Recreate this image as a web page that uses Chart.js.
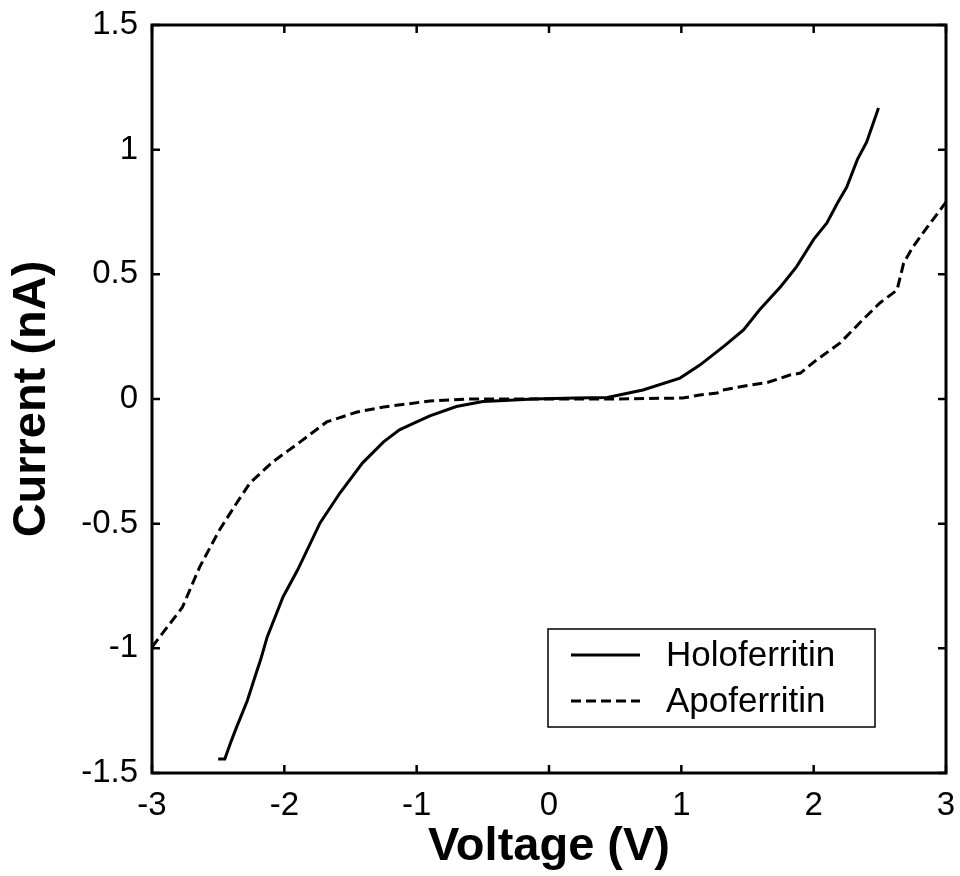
<!DOCTYPE html>
<html>
<head>
<meta charset="utf-8">
<script src="https://cdn.jsdelivr.net/npm/chart.js@4.4.1/dist/chart.umd.min.js"></script>
<style>
    html, body { margin: 0; padding: 0; background: #ffffff; }
    #wrap { width: 960px; height: 876px; }
</style>
</head>
<body>
<div id="wrap"><canvas id="ivChart" width="960" height="876"></canvas></div>
<script>
// ================================================================
// DATA
// ================================================================

const holoVoltage = [-2.50, -2.45, -2.40, -2.36, -2.28, -2.21, -2.18, -2.13, -2.01, -1.90,
    -1.73, -1.58, -1.41, -1.25, -1.13, -1.00, -0.90, -0.70, -0.50, -0.30,
    -0.12, 0.20, 0.44, 0.71, 0.99, 1.14, 1.27, 1.33, 1.47, 1.59,
    1.75, 1.87, 2.00, 2.10, 2.18, 2.25, 2.33, 2.40, 2.49];
const holoCurrent = [-1.444, -1.444, -1.37, -1.315, -1.21, -1.095, -1.047, -0.955, -0.794, -0.686,
    -0.497, -0.377, -0.257, -0.172, -0.124, -0.092, -0.068, -0.03, -0.01, -0.005,
    0.0, 0.004, 0.006, 0.036, 0.084, 0.136, 0.19, 0.215, 0.277, 0.357,
    0.45, 0.53, 0.64, 0.706, 0.786, 0.85, 0.96, 1.03, 1.167];

const apoVoltage = [-3.00, -2.77, -2.64, -2.49, -2.36, -2.26, -2.09, -1.88, -1.68, -1.45,
    -1.25, -0.90, -0.62, 0.00, 0.50, 1.01, 1.14, 1.27, 1.31, 1.52,
    1.65, 1.82, 1.90, 2.02, 2.20, 2.37, 2.50, 2.63, 2.68, 2.75,
    2.86, 3.00];
const apoCurrent = [-0.995, -0.835, -0.674, -0.525, -0.417, -0.337, -0.253, -0.172, -0.092, -0.052,
    -0.032, -0.008, 0.0, 0.0, 0.0, 0.004, 0.016, 0.024, 0.036, 0.056,
    0.066, 0.096, 0.104, 0.156, 0.225, 0.317, 0.385, 0.437, 0.545, 0.61,
    0.69, 0.79];

const xTicks = [-3, -2, -1, 0, 1, 2, 3];
const yTicks = [-1.5, -1, -0.5, 0, 0.5, 1, 1.5];
const seriesNames = ['Holoferritin', 'Apoferritin'];

// ================================================================
// HELPERS
// ================================================================

const FONT = "'Liberation Sans', Arial, Helvetica, sans-serif";

function toPoints(xs, ys) {
    return xs.map((x, i) => ({ x: x, y: ys[i] }));
}

// frame box + inward ticks on all four sides
const framePlugin = {
    id: 'frame',
    afterDraw(chart) {
        const { ctx, chartArea: a, scales } = chart;
        ctx.save();
        ctx.strokeStyle = '#000';
        ctx.lineWidth = 2.5;
        const tl = 8;
        ctx.beginPath();
        xTicks.forEach(v => {
            const px = scales.x.getPixelForValue(v);
            ctx.moveTo(px, a.bottom); ctx.lineTo(px, a.bottom - tl);
            ctx.moveTo(px, a.top); ctx.lineTo(px, a.top + tl);
        });
        yTicks.forEach(v => {
            const py = scales.y.getPixelForValue(v);
            ctx.moveTo(a.left, py); ctx.lineTo(a.left + tl, py);
            ctx.moveTo(a.right, py); ctx.lineTo(a.right - tl, py);
        });
        ctx.stroke();
        ctx.lineWidth = 3;
        ctx.strokeRect(a.left, a.top, a.right - a.left, a.bottom - a.top);
        ctx.restore();
    }
};

// boxed legend in the lower right of the plot
const boxLegendPlugin = {
    id: 'boxLegend',
    afterDraw(chart) {
        const { ctx } = chart;
        const box = { x: 548, y: 629, w: 327, h: 98 };
        ctx.save();
        ctx.fillStyle = '#fff';
        ctx.fillRect(box.x, box.y, box.w, box.h);
        ctx.strokeStyle = '#000';
        ctx.lineWidth = 1.5;
        ctx.strokeRect(box.x, box.y, box.w, box.h);
        ctx.font = '35px ' + FONT;
        ctx.textBaseline = 'middle';
        ctx.fillStyle = '#000';
        chart.data.datasets.forEach((ds, i) => {
            const cy = box.y + 26 + i * 46;
            ctx.beginPath();
            ctx.lineWidth = ds.borderWidth;
            ctx.setLineDash(ds.borderDash || []);
            ctx.moveTo(box.x + 23, cy);
            ctx.lineTo(box.x + 92, cy);
            ctx.stroke();
            ctx.setLineDash([]);
            ctx.fillText(ds.label, box.x + 118, cy + 1);
        });
        ctx.restore();
    }
};

// ================================================================
// CHART
// ================================================================

const ctx = document.getElementById('ivChart').getContext('2d');

new Chart(ctx, {
    type: 'scatter',
    data: {
        datasets: [{
            label: seriesNames[0],
            data: toPoints(holoVoltage, holoCurrent),
            showLine: true,
            borderColor: '#000',
            borderWidth: 3,
            pointRadius: 0,
            tension: 0
        }, {
            label: seriesNames[1],
            data: toPoints(apoVoltage, apoCurrent),
            showLine: true,
            borderColor: '#000',
            borderWidth: 3,
            borderDash: [10, 5],
            pointRadius: 0,
            tension: 0
        }]
    },
    options: {
        responsive: false,
        animation: false,
        layout: {
            padding: { top: 25, right: 14, left: 0, bottom: 0 }
        },
        plugins: {
            legend: { display: false },
            tooltip: { enabled: false }
        },
        scales: {
            x: {
                type: 'linear',
                min: -3,
                max: 3,
                afterBuildTicks: scale => { scale.ticks = xTicks.map(v => ({ value: v })); },
                afterFit: scale => {
                    scale.height = 103;
                    scale.paddingLeft = 0;
                    scale.paddingRight = 0;
                },
                grid: { display: false, drawTicks: false },
                border: { display: false },
                ticks: {
                    color: '#000',
                    padding: 13,
                    maxRotation: 0,
                    font: { family: FONT, size: 33 },
                    callback: v => String(v)
                },
                title: {
                    display: true,
                    text: 'Voltage (V)',
                    color: '#000',
                    font: { family: FONT, size: 47, weight: 'bold', lineHeight: 1 },
                    padding: { top: 0, bottom: 5 }
                }
            },
            y: {
                type: 'linear',
                min: -1.5,
                max: 1.5,
                afterBuildTicks: scale => { scale.ticks = yTicks.map(v => ({ value: v })); },
                afterFit: scale => {
                    scale.width = 152;
                    scale.paddingTop = 0;
                    scale.paddingBottom = 0;
                },
                grid: { display: false, drawTicks: false },
                border: { display: false },
                ticks: {
                    color: '#000',
                    padding: 14,
                    font: { family: FONT, size: 33 },
                    callback: v => String(v)
                },
                title: {
                    display: true,
                    text: 'Current (nA)',
                    color: '#000',
                    font: { family: FONT, size: 47, weight: 'bold', lineHeight: 1 },
                    padding: { top: 9, bottom: 0 }
                }
            }
        }
    },
    plugins: [framePlugin, boxLegendPlugin]
});
</script>
</body>
</html>
